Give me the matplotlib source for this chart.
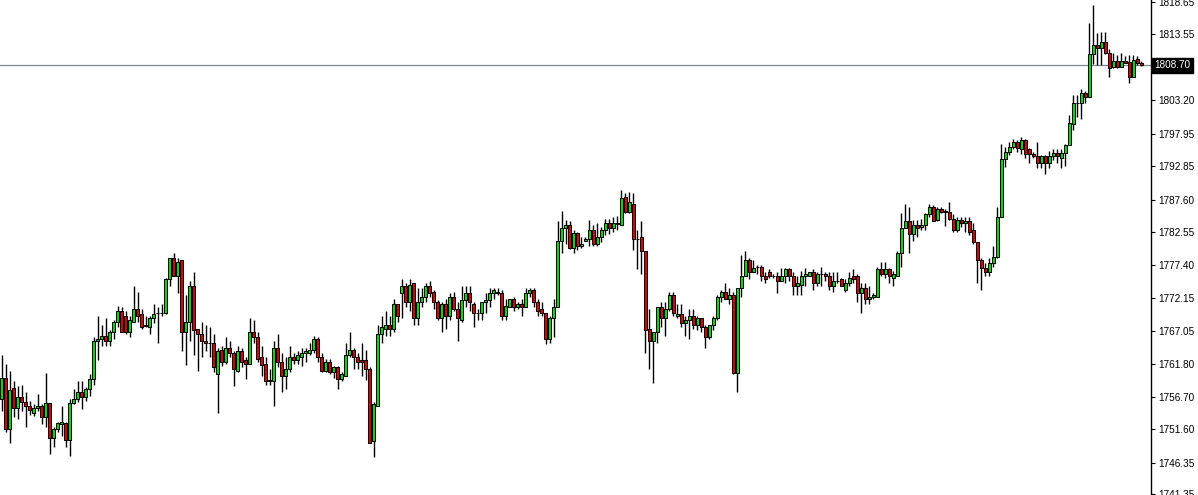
import numpy as np
import matplotlib
matplotlib.use("Agg")
import matplotlib.pyplot as plt
import matplotlib.transforms as mtransforms

# OHLC values, one candle per bar
opens = [
    1756.4, 1759.6, 1751.7, 1758.0, 1755.0, 1756.6, 1755.8, 1755.2, 1754.2, 1754.9,
    1755.3, 1753.5, 1755.7, 1750.2, 1751.6, 1752.4, 1752.5, 1749.9, 1755.7, 1756.3,
    1757.4, 1756.6, 1757.9, 1759.4, 1765.4, 1765.8, 1766.3, 1765.4, 1766.9, 1768.5,
    1770.1, 1769.4, 1766.9, 1768.5, 1770.4, 1769.6, 1767.9, 1767.7, 1769.0, 1769.9,
    1769.9, 1769.9, 1775.2, 1778.4, 1775.7, 1778.1, 1766.8, 1768.5, 1774.1, 1767.3,
    1766.5, 1765.5, 1765.2, 1765.2, 1760.2, 1764.0, 1762.1, 1764.4, 1763.6, 1760.8,
    1763.8, 1762.4, 1761.9, 1766.8, 1766.0, 1762.9, 1761.8, 1759.3, 1759.1, 1764.3,
    1762.1, 1759.9, 1761.1, 1763.0, 1762.4, 1763.0, 1763.6, 1763.6, 1764.0, 1765.8,
    1763.0, 1760.8, 1762.1, 1760.5, 1761.3, 1759.4, 1760.0, 1763.3, 1764.1, 1762.9,
    1762.4, 1762.4, 1761.1, 1749.7, 1755.2, 1766.6, 1767.4, 1767.9, 1767.4, 1771.3,
    1773.0, 1774.1, 1771.5, 1774.5, 1769.1, 1771.6, 1772.4, 1774.1, 1773.2, 1771.6,
    1769.1, 1771.2, 1769.3, 1772.4, 1770.5, 1768.8, 1771.8, 1773.0, 1771.3, 1769.9,
    1769.9, 1771.6, 1771.8, 1772.9, 1773.2, 1773.0, 1769.3, 1770.8, 1772.0, 1770.7,
    1771.3, 1770.7, 1772.9, 1773.5, 1771.6, 1770.4, 1769.9, 1765.8, 1769.1, 1770.8,
    1781.2, 1783.1, 1783.7, 1780.1, 1782.4, 1780.3, 1781.2, 1781.5, 1782.9, 1780.7,
    1781.8, 1782.9, 1783.9, 1783.1, 1783.9, 1783.7, 1788.1, 1785.7, 1787.0, 1781.5,
    1781.7, 1779.5, 1767.4, 1765.5, 1766.8, 1770.7, 1769.0, 1770.4, 1772.6, 1769.3,
    1769.6, 1768.2, 1768.7, 1769.4, 1767.9, 1769.0, 1767.7, 1766.0, 1767.9, 1769.1,
    1772.4, 1773.2, 1772.1, 1772.7, 1760.4, 1773.7, 1775.6, 1778.1, 1776.3, 1777.1,
    1777.1, 1775.6, 1776.3, 1775.7, 1775.6, 1774.8, 1775.7, 1776.8, 1775.6, 1774.0,
    1774.3, 1775.6, 1775.6, 1776.2, 1774.6, 1775.9, 1776.0, 1775.6, 1774.0, 1774.9,
    1775.1, 1773.4, 1774.5, 1775.6, 1775.7, 1772.9, 1773.8, 1772.0, 1772.3, 1772.4,
    1776.7, 1776.0, 1776.8, 1775.4, 1775.6, 1779.3, 1783.2, 1784.3, 1782.3, 1783.7,
    1783.4, 1783.7, 1785.3, 1786.4, 1784.5, 1786.2, 1785.9, 1785.7, 1784.6, 1782.9,
    1784.5, 1783.9, 1784.3, 1782.8, 1780.9, 1778.2, 1776.9, 1776.3, 1777.7, 1778.7,
    1784.9, 1794.0, 1795.1, 1795.9, 1796.7, 1795.6, 1797.0, 1795.5, 1794.8, 1794.5,
    1793.4, 1794.4, 1793.3, 1794.4, 1795.0, 1794.2, 1795.0, 1796.2, 1799.5, 1802.8,
    1802.8, 1804.4, 1803.8, 1810.5, 1811.9, 1811.4, 1812.4, 1810.7, 1808.5, 1809.4,
    1808.5, 1809.4, 1809.2, 1806.9, 1809.7, 1809.1,
]

highs = [
    1763.2, 1761.9, 1760.7, 1759.1, 1758.3, 1758.6, 1757.4, 1756.0, 1755.5, 1757.1,
    1755.5, 1760.4, 1755.7, 1752.0, 1752.8, 1755.2, 1752.7, 1756.4, 1757.9, 1759.1,
    1759.1, 1758.2, 1760.2, 1766.0, 1769.3, 1768.0, 1769.0, 1767.1, 1768.8, 1771.0,
    1770.8, 1770.2, 1769.4, 1774.1, 1773.2, 1770.4, 1769.3, 1769.3, 1771.2, 1770.8,
    1771.2, 1775.4, 1778.5, 1779.3, 1778.4, 1778.1, 1772.6, 1774.8, 1776.2, 1767.3,
    1768.4, 1767.9, 1767.7, 1766.6, 1764.3, 1764.6, 1766.0, 1765.4, 1763.8, 1764.6,
    1764.3, 1763.0, 1769.0, 1768.7, 1766.8, 1764.6, 1763.0, 1761.0, 1765.4, 1766.6,
    1763.6, 1762.9, 1764.7, 1763.6, 1763.8, 1764.3, 1764.4, 1765.2, 1766.3, 1766.0,
    1763.6, 1762.6, 1762.6, 1761.5, 1761.5, 1760.5, 1765.1, 1766.8, 1764.4, 1763.6,
    1765.2, 1764.0, 1761.3, 1755.8, 1768.0, 1769.3, 1770.2, 1769.3, 1772.0, 1771.3,
    1775.2, 1774.6, 1775.1, 1774.6, 1773.8, 1773.8, 1774.6, 1774.9, 1773.4, 1771.8,
    1771.6, 1772.1, 1772.9, 1773.2, 1771.5, 1774.0, 1774.0, 1774.0, 1771.5, 1770.5,
    1771.6, 1772.9, 1773.7, 1773.8, 1773.7, 1773.5, 1772.1, 1772.1, 1772.3, 1771.5,
    1772.1, 1773.8, 1773.8, 1773.8, 1772.1, 1771.6, 1769.9, 1769.3, 1772.0, 1784.3,
    1785.9, 1784.5, 1784.3, 1782.9, 1782.6, 1781.8, 1781.8, 1784.5, 1783.7, 1783.9,
    1783.4, 1784.6, 1784.6, 1784.9, 1785.1, 1789.2, 1788.7, 1788.9, 1788.6, 1782.8,
    1784.2, 1779.6, 1770.5, 1766.8, 1770.7, 1771.6, 1771.5, 1773.1, 1773.1, 1771.2,
    1771.2, 1769.3, 1770.4, 1770.4, 1769.4, 1769.1, 1768.0, 1768.0, 1769.3, 1772.6,
    1773.4, 1774.6, 1773.8, 1773.1, 1773.7, 1779.0, 1779.6, 1778.5, 1778.2, 1777.4,
    1777.3, 1776.2, 1776.7, 1776.0, 1776.3, 1776.9, 1776.9, 1776.9, 1776.3, 1775.6,
    1776.5, 1776.9, 1776.3, 1776.7, 1776.2, 1777.1, 1776.2, 1776.2, 1776.2, 1776.3,
    1775.4, 1775.2, 1776.2, 1776.8, 1775.9, 1774.6, 1774.6, 1774.0, 1773.0, 1777.1,
    1777.9, 1777.9, 1776.9, 1776.5, 1779.6, 1785.6, 1787.0, 1786.4, 1784.5, 1784.5,
    1784.6, 1785.6, 1787.0, 1786.8, 1786.5, 1786.4, 1786.2, 1787.2, 1785.4, 1784.9,
    1784.9, 1784.9, 1784.9, 1784.0, 1780.9, 1778.4, 1777.7, 1778.5, 1780.3, 1786.4,
    1796.4, 1795.9, 1796.7, 1797.2, 1797.0, 1797.5, 1797.2, 1795.8, 1795.1, 1796.6,
    1794.7, 1794.7, 1795.3, 1795.5, 1795.5, 1795.5, 1796.4, 1800.9, 1804.1, 1804.1,
    1805.0, 1804.7, 1815.4, 1818.2, 1813.8, 1814.0, 1814.0, 1811.3, 1810.7, 1810.3,
    1810.7, 1810.2, 1810.3, 1810.3, 1810.2, 1809.4,
]

lows = [
    1754.4, 1751.1, 1749.5, 1753.5, 1753.2, 1754.4, 1751.9, 1753.9, 1753.6, 1754.4,
    1752.4, 1752.0, 1747.7, 1748.8, 1751.1, 1750.5, 1748.8, 1747.4, 1755.5, 1755.8,
    1754.7, 1756.0, 1756.8, 1758.6, 1762.4, 1764.6, 1764.7, 1764.7, 1765.7, 1767.6,
    1766.8, 1766.5, 1766.0, 1768.5, 1768.5, 1767.4, 1767.6, 1766.5, 1768.2, 1765.2,
    1769.3, 1769.6, 1774.0, 1775.7, 1772.9, 1763.8, 1761.6, 1765.4, 1763.3, 1760.7,
    1763.0, 1763.8, 1763.0, 1760.5, 1754.1, 1761.5, 1761.8, 1763.0, 1758.3, 1760.5,
    1761.3, 1759.4, 1761.8, 1765.2, 1762.1, 1759.9, 1758.5, 1758.5, 1755.3, 1761.3,
    1757.4, 1757.9, 1760.5, 1761.9, 1761.8, 1761.5, 1762.1, 1763.2, 1763.6, 1762.1,
    1760.5, 1760.5, 1760.2, 1759.7, 1757.9, 1759.1, 1759.9, 1763.0, 1761.0, 1761.0,
    1760.0, 1759.3, 1749.4, 1747.2, 1755.2, 1765.1, 1766.3, 1766.2, 1766.8, 1768.4,
    1769.0, 1770.8, 1770.2, 1768.0, 1768.0, 1770.8, 1771.6, 1772.4, 1770.5, 1768.8,
    1766.9, 1767.3, 1768.7, 1770.1, 1765.5, 1768.5, 1770.8, 1770.1, 1767.6, 1768.7,
    1768.7, 1769.9, 1770.8, 1772.0, 1772.6, 1768.7, 1768.7, 1770.8, 1770.1, 1770.4,
    1769.3, 1770.7, 1772.4, 1770.8, 1769.3, 1769.3, 1764.9, 1765.2, 1766.0, 1770.8,
    1779.3, 1780.6, 1779.9, 1779.3, 1779.8, 1780.1, 1781.2, 1780.3, 1780.3, 1780.3,
    1781.0, 1782.1, 1782.3, 1782.6, 1782.9, 1783.7, 1785.6, 1785.6, 1779.8, 1776.7,
    1775.9, 1763.6, 1761.0, 1758.9, 1765.2, 1767.6, 1766.3, 1770.1, 1769.3, 1769.1,
    1767.7, 1766.3, 1765.7, 1767.3, 1767.1, 1766.9, 1764.3, 1765.7, 1767.1, 1768.7,
    1771.6, 1772.0, 1771.3, 1760.2, 1757.5, 1772.3, 1775.6, 1775.2, 1776.2, 1775.9,
    1774.8, 1774.5, 1775.4, 1775.4, 1773.0, 1774.8, 1774.6, 1774.8, 1772.6, 1772.6,
    1772.7, 1774.0, 1775.6, 1773.4, 1774.0, 1774.0, 1774.8, 1773.5, 1773.2, 1774.6,
    1774.0, 1773.2, 1774.0, 1774.6, 1771.5, 1769.9, 1771.2, 1771.3, 1772.1, 1772.4,
    1775.6, 1775.4, 1774.5, 1774.0, 1775.6, 1777.1, 1783.1, 1779.2, 1781.2, 1781.7,
    1782.8, 1782.9, 1784.9, 1784.2, 1784.2, 1785.6, 1783.5, 1784.5, 1782.6, 1782.6,
    1783.4, 1782.5, 1782.0, 1780.7, 1774.6, 1773.4, 1775.6, 1775.6, 1777.1, 1778.5,
    1784.9, 1792.8, 1794.7, 1795.6, 1795.1, 1794.8, 1794.2, 1793.4, 1794.2, 1792.6,
    1792.6, 1791.7, 1792.6, 1793.9, 1793.3, 1792.6, 1792.9, 1796.2, 1798.6, 1800.6,
    1800.3, 1802.8, 1803.8, 1808.9, 1808.8, 1808.8, 1810.5, 1806.9, 1808.3, 1808.3,
    1808.5, 1809.1, 1805.9, 1806.9, 1808.8, 1808.6,
]

closes = [
    1759.6, 1751.7, 1757.8, 1755.0, 1756.6, 1755.8, 1755.2, 1754.6, 1754.9, 1755.3,
    1753.5, 1755.7, 1750.2, 1751.6, 1752.5, 1752.7, 1749.9, 1755.7, 1756.3, 1757.4,
    1756.6, 1757.9, 1759.4, 1765.4, 1765.8, 1766.3, 1765.4, 1766.9, 1768.5, 1770.2,
    1766.9, 1766.9, 1768.8, 1770.4, 1769.4, 1767.7, 1767.8, 1769.0, 1769.7, 1769.9,
    1769.85, 1775.1, 1778.4, 1775.7, 1777.9, 1766.8, 1768.5, 1774.0, 1767.1, 1766.5,
    1765.5, 1765.2, 1765.1, 1761.3, 1763.8, 1762.1, 1764.4, 1763.6, 1761.1, 1763.8,
    1762.2, 1761.9, 1766.8, 1766.0, 1762.6, 1761.6, 1759.1, 1759.2, 1764.3, 1762.1,
    1759.9, 1761.1, 1763.0, 1762.4, 1763.2, 1763.6, 1763.8, 1764.1, 1765.8, 1763.0,
    1760.8, 1762.1, 1760.5, 1761.3, 1759.4, 1760.2, 1763.3, 1764.1, 1762.9, 1762.1,
    1762.2, 1761.1, 1749.5, 1755.5, 1766.6, 1767.6, 1767.9, 1767.4, 1771.3, 1769.4,
    1774.1, 1771.5, 1774.3, 1769.1, 1771.6, 1772.4, 1774.1, 1773.0, 1771.6, 1769.1,
    1771.2, 1769.3, 1772.4, 1770.5, 1769.0, 1771.8, 1773.0, 1771.5, 1769.9, 1769.85,
    1771.6, 1771.8, 1772.9, 1773.4, 1772.9, 1769.3, 1771.0, 1772.0, 1770.7, 1771.3,
    1770.7, 1772.9, 1773.5, 1771.6, 1770.2, 1769.9, 1765.8, 1769.1, 1770.8, 1781.2,
    1783.1, 1783.7, 1780.1, 1782.4, 1780.3, 1780.7, 1781.5, 1782.9, 1780.7, 1781.8,
    1782.9, 1783.9, 1783.1, 1783.9, 1783.8, 1787.9, 1785.7, 1787.2, 1781.5, 1781.45,
    1779.5, 1767.1, 1765.5, 1766.8, 1770.7, 1769.0, 1770.5, 1772.6, 1769.9, 1769.6,
    1768.2, 1768.7, 1769.4, 1767.9, 1769.0, 1767.6, 1766.0, 1767.9, 1769.1, 1772.4,
    1773.2, 1772.1, 1772.7, 1760.4, 1773.7, 1775.6, 1778.2, 1776.3, 1776.9, 1777.05,
    1775.6, 1775.2, 1775.7, 1775.65, 1774.8, 1775.7, 1776.8, 1775.6, 1774.0, 1774.5,
    1775.7, 1775.9, 1776.2, 1774.6, 1775.9, 1776.0, 1775.6, 1774.0, 1774.9, 1774.85,
    1774.0, 1774.5, 1775.4, 1775.2, 1772.9, 1773.8, 1772.0, 1772.3, 1772.7, 1776.7,
    1775.9, 1776.8, 1775.6, 1776.0, 1779.3, 1783.2, 1784.3, 1782.3, 1783.7, 1783.2,
    1783.7, 1785.3, 1786.5, 1784.3, 1786.2, 1785.7, 1785.7, 1784.6, 1782.9, 1784.5,
    1783.9, 1784.3, 1782.6, 1780.9, 1778.2, 1776.9, 1776.3, 1777.7, 1778.7, 1784.9,
    1794.0, 1795.1, 1795.9, 1796.6, 1795.8, 1797.0, 1794.8, 1794.8, 1794.4, 1793.4,
    1794.4, 1793.3, 1794.5, 1795.0, 1794.4, 1795.0, 1796.2, 1799.7, 1802.8, 1802.75,
    1804.4, 1803.8, 1810.5, 1811.9, 1811.4, 1812.4, 1810.7, 1808.3, 1809.4, 1808.5,
    1809.4, 1809.1, 1806.9, 1809.6, 1809.1, 1808.8,
]

price_ticks = [1818.65, 1813.55, 1803.20, 1797.95, 1792.85, 1787.60, 1782.55,
               1777.40, 1772.15, 1767.05, 1761.80, 1756.70, 1751.60, 1746.35, 1741.35]
last_price = 1808.70

o = np.array(opens)
h = np.array(highs)
l = np.array(lows)
c = np.array(closes)
x = np.arange(len(o))

fig = plt.figure(figsize=(11.98, 4.95), dpi=100)
ax = fig.add_axes([0, 0, 1151 / 1198, 1])

bull = c >= o
body_col = np.where(bull, '#00e000', '#e00000')

ax.vlines(x, l, h, color='black', linewidth=1.0, zorder=2)
ax.bar(x, c - o, bottom=o, width=0.72, color=body_col, edgecolor='black',
       linewidth=0.75, zorder=3)

# current price line and label
ax.axhline(last_price, color='#7d8790', linewidth=0.9, zorder=1)
trans = mtransforms.blended_transform_factory(ax.transAxes, ax.transData)
ax.text(1.003, last_price, '%.2f' % last_price, transform=trans, va='center',
        ha='left', color='white', fontsize=7.2, family='Liberation Sans',
        bbox=dict(boxstyle='square,pad=0.25', facecolor='black', edgecolor='black'),
        clip_on=False, zorder=5)

ax.set_xlim(-0.4, 287.4)
ax.set_ylim(1741.27, 1818.96)

for s in ['left', 'top', 'bottom']:
    ax.spines[s].set_visible(False)
ax.spines['right'].set_color('black')
ax.spines['right'].set_linewidth(1.0)

ax.set_xticks([])
ax.yaxis.tick_right()
ax.set_yticks(price_ticks)
ax.set_yticklabels(['%.2f' % v for v in price_ticks])
ax.tick_params(axis='y', direction='out', length=3, width=0.8, pad=2,
               labelsize=7.2, colors='black')
for lab in ax.get_yticklabels():
    lab.set_family('Liberation Sans')

fig.savefig('out.png', dpi=100)
